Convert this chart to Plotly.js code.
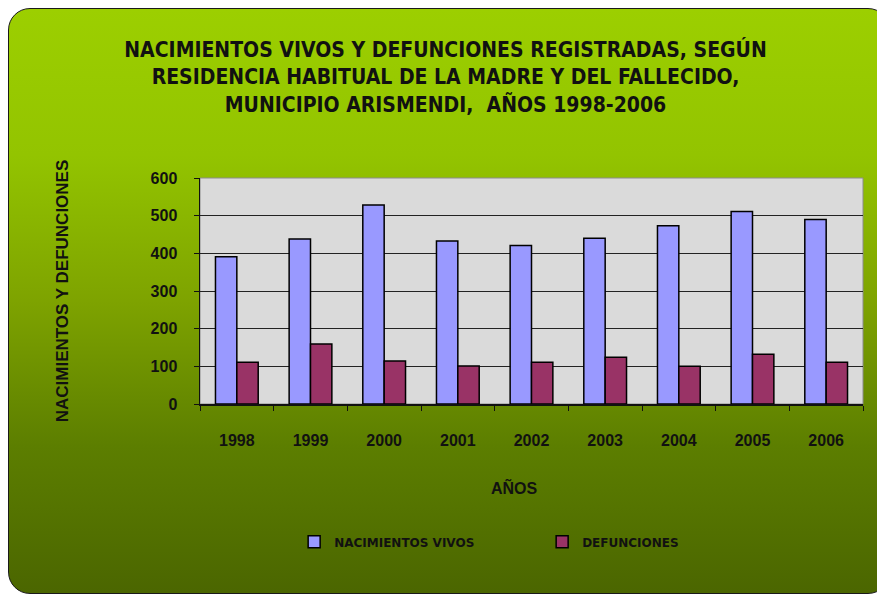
<!DOCTYPE html>
<html>
<head>
<meta charset="utf-8">
<script src="https://cdn.plot.ly/plotly-3.0.1.min.js"></script>
<style>
    body { margin: 0; background: #ffffff; }
    #frame {
        position: absolute; left: 8px; top: 8px; width: 880px; height: 584px;
        border-radius: 22px;
        border: 1px solid #1a1a1a;
        background: linear-gradient(to bottom, #9ccf00 0%, #93c400 25%, #7ea300 50%, #5c7e00 75%, #4b6600 100%);
    }
    #chart { position: absolute; left: 0; top: 0; }
</style>
</head>
<body>
<div id="frame"></div>
<div id="chart"></div>
<script>
// Data
const years = ['1998', '1999', '2000', '2001', '2002', '2003', '2004', '2005', '2006'];
const nacimientosVivos = [391, 438, 528, 433, 421, 440, 473, 511, 490];
const defunciones = [111, 159, 114, 101, 111, 124, 100, 132, 111];

const narrowFont = '"DejaVu Sans Condensed", "Liberation Sans", Arial, sans-serif';
const plainFont = '"Liberation Sans", Arial, sans-serif';
const wideFont = '"DejaVu Sans", "Liberation Sans", sans-serif';

function createChart() {
    const traceNac = {
        x: years,
        y: nacimientosVivos,
        name: 'NACIMIENTOS VIVOS',
        type: 'bar',
        marker: { color: '#9999ff', line: { color: '#000000', width: 1.5 } }
    };

    const traceDef = {
        x: years,
        y: defunciones,
        name: 'DEFUNCIONES',
        type: 'bar',
        marker: { color: '#993366', line: { color: '#000000', width: 1.5 } }
    };

    const layout = {
        width: 877,
        height: 594,
        margin: { l: 200, r: 14, t: 178, b: 190 },
        paper_bgcolor: 'rgba(0,0,0,0)',
        plot_bgcolor: '#dadada',
        font: { family: plainFont, color: '#111111' },
        barmode: 'group',
        bargap: 0.42,
        bargroupgap: 0,
        title: {
            text: 'NACIMIENTOS VIVOS Y DEFUNCIONES REGISTRADAS, SEGÚN<br>RESIDENCIA HABITUAL DE LA MADRE Y DEL FALLECIDO,<br>MUNICIPIO ARISMENDI,  AÑOS 1998-2006',
            font: { family: narrowFont, size: 21, color: '#111111', weight: 'bold' },
            x: 0.508,
            xanchor: 'center',
            y: 0.904,
            yanchor: 'middle'
        },
        xaxis: {
            type: 'category',
            tickson: 'boundaries',
            ticks: 'outside',
            ticklen: 5,
            tickcolor: '#111111',
            showline: true,
            linecolor: '#111111',
            linewidth: 1.5,
            ticklabelstandoff: 21,
            tickfont: { size: 16, weight: 'bold' }
        },
        yaxis: {
            range: [0, 600],
            dtick: 100,
            ticks: 'outside',
            ticklen: 5,
            tickcolor: '#111111',
            showline: true,
            linecolor: '#111111',
            linewidth: 1.5,
            gridcolor: '#222222',
            gridwidth: 1,
            zeroline: false,
            ticklabelstandoff: 13,
            tickfont: { size: 16, weight: 'bold' },
            title: { text: 'NACIMIENTOS Y DEFUNCIONES', font: { size: 17, weight: 'bold' }, standoff: 77 }
        },
        annotations: [{
            text: 'AÑOS', xref: 'paper', yref: 'paper', x: 0.475, y: -0.37,
            xanchor: 'center', yanchor: 'middle', showarrow: false,
            font: { size: 16, weight: 'bold' }
        }],
        shapes: [{
            type: 'rect', xref: 'paper', yref: 'paper', x0: 0, x1: 1, y0: 0, y1: 1,
            line: { color: '#8c8c8c', width: 1 }, layer: 'below'
        }],
        showlegend: true,
        legend: {
            orientation: 'h',
            x: 0.142,
            xanchor: 'left',
            y: -0.61,
            yanchor: 'middle',
            entrywidth: 203,
            bgcolor: 'rgba(0,0,0,0)',
            font: { family: wideFont, size: 12, weight: 'bold' },
            itemwidth: 30
        }
    };

    Plotly.newPlot('chart', [traceNac, traceDef], layout, { displayModeBar: false, staticPlot: true });
}

createChart();
</script>
</body>
</html>
